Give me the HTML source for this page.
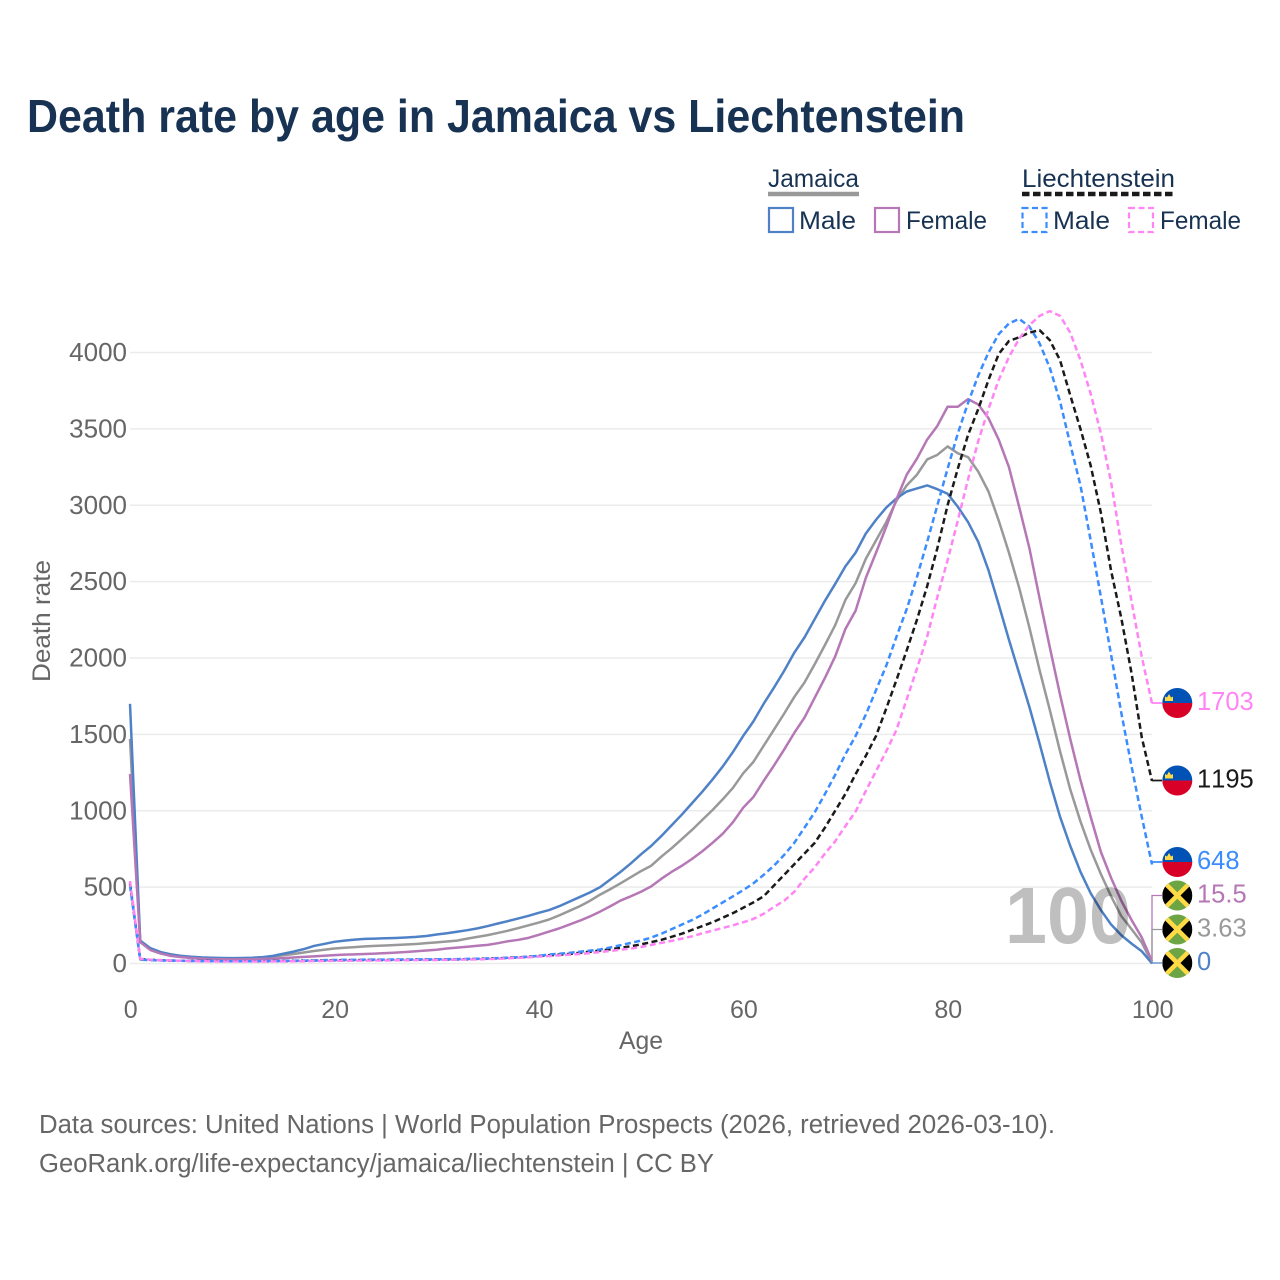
<!DOCTYPE html>
<html lang="en">
<head>
<meta charset="utf-8">
<title>Death rate by age in Jamaica vs Liechtenstein</title>
<style>
html,body{margin:0;padding:0;background:#fff;}
svg{display:block;}
text{font-family:"Liberation Sans",sans-serif;font-kerning:none;}
</style>
</head>
<body>
<svg id="chart" width="1280" height="1280" viewBox="0 0 1280 1280" xmlns="http://www.w3.org/2000/svg">
  <rect width="1280" height="1280" fill="#ffffff"/>
  <text x="27" y="132" font-size="46" font-weight="700" fill="#173252" textLength="938" lengthAdjust="spacingAndGlyphs">Death rate by age in Jamaica vs Liechtenstein</text>

  <g font-size="25" fill="#173252">
    <text x="768" y="187" textLength="91" lengthAdjust="spacingAndGlyphs">Jamaica</text>
    <line x1="768" x2="859" y1="194" y2="194" stroke="#999999" stroke-width="4.5"/>
    <text x="1022" y="187" textLength="153" lengthAdjust="spacingAndGlyphs">Liechtenstein</text>
    <line x1="1022" x2="1175" y1="194" y2="194" stroke="#1a1a1a" stroke-width="4.5" stroke-dasharray="7.5 3.5"/>
    <rect x="769" y="208" width="24" height="24" fill="none" stroke="#4f81c7" stroke-width="2.2"/>
    <text x="799" y="229" textLength="57" lengthAdjust="spacingAndGlyphs">Male</text>
    <rect x="875" y="208" width="24" height="24" fill="none" stroke="#b577b5" stroke-width="2.2"/>
    <text x="906" y="229" textLength="81" lengthAdjust="spacingAndGlyphs">Female</text>
    <rect x="1022.500" y="208" width="24" height="24" fill="none" stroke="#3b8cff" stroke-width="2.2" stroke-dasharray="6 3.500"/>
    <text x="1053" y="229" textLength="57" lengthAdjust="spacingAndGlyphs">Male</text>
    <rect x="1129" y="208" width="24" height="24" fill="none" stroke="#ff85f5" stroke-width="2.2" stroke-dasharray="6 3.500"/>
    <text x="1160" y="229" textLength="81" lengthAdjust="spacingAndGlyphs">Female</text>
  </g>

  <g id="grid"></g>
  <g id="yticks" font-size="26" fill="#666666" text-anchor="end"></g>
  <g id="xticks" font-size="25" fill="#666666" text-anchor="middle"></g>
  <text x="641" y="1049" font-size="25" fill="#666666" text-anchor="middle" textLength="44" lengthAdjust="spacingAndGlyphs">Age</text>
  <text transform="translate(50 621) rotate(-90)" font-size="25" fill="#666666" text-anchor="middle" textLength="122" lengthAdjust="spacingAndGlyphs">Death rate</text>

  <g id="series" fill="none" stroke-linejoin="round"></g>
  <text x="1005" y="943" font-size="80" font-weight="700" fill="#000000" fill-opacity="0.25" textLength="126" lengthAdjust="spacingAndGlyphs">100</text>
  <g id="endpoints"></g>

  <text x="39" y="1133" font-size="25.500" fill="#666666" textLength="1016" lengthAdjust="spacingAndGlyphs">Data sources: United Nations | World Population Prospects (2026, retrieved 2026-03-10).</text>
  <text x="39" y="1172" font-size="25.500" fill="#666666" textLength="675" lengthAdjust="spacingAndGlyphs">GeoRank.org/life-expectancy/jamaica/liechtenstein | CC BY</text>
</svg>
<script>
const yTickValues = [0, 500, 1000, 1500, 2000, 2500, 3000, 3500, 4000];
const xTickValues = [0, 20, 40, 60, 80, 100];

const jamaicaMale = [
  1700,150,100,75,60,50,44,40,38,36,
  35,36,38,42,50,64,78,94,115,128,
  142,150,156,161,163,165,167,170,174,180,
  190,198,208,218,230,245,262,278,295,312,
  332,350,375,405,435,465,500,550,600,655,
  715,770,835,905,975,1050,1125,1205,1290,1385,
  1490,1585,1700,1805,1915,2035,2135,2255,2375,2485,
  2600,2690,2815,2905,2985,3045,3090,3110,3130,3105,
  3075,2990,2890,2760,2575,2350,2120,1900,1680,1440,
  1190,961,770,600,460,350,255,185,130,80,
  0];
const jamaicaBoth = [
  1470,145,95,72,58,48,42,38,35,33,
  33,33,35,40,46,54,62,72,82,90,
  98,103,107,112,115,118,121,124,128,133,
  138,144,150,163,174,186,200,215,232,250,
  268,288,315,345,375,410,451,487,525,565,
  605,640,700,755,815,875,940,1005,1075,1150,
  1245,1320,1425,1530,1635,1745,1840,1960,2085,2215,
  2380,2490,2650,2770,2890,3030,3130,3200,3300,3330,
  3385,3340,3315,3220,3090,2900,2690,2460,2200,1920,
  1660,1390,1140,930,745,585,440,310,225,137,
  3.63];
const jamaicaFemale = [
  1240,140,88,65,50,42,36,32,29,28,
  27,27,28,30,32,35,39,43,47,51,
  55,58,60,62,65,68,71,75,80,85,
  90,98,104,110,116,122,133,146,155,168,
  188,209,230,255,280,308,340,375,412,440,
  470,505,555,600,640,685,735,790,850,925,
  1020,1090,1195,1295,1400,1510,1610,1740,1870,2010,
  2190,2310,2525,2690,2860,3040,3200,3305,3430,3520,
  3645,3645,3695,3660,3570,3430,3250,2990,2720,2390,
  2070,1760,1470,1200,960,730,560,410,285,170,
  15.5];
const liechtensteinMale = [
  510,25,22,20,19,18,17,16,16,15,
  15,15,15,16,16,17,18,19,20,22,
  23,24,24,25,25,25,26,26,26,27,
  27,28,29,30,31,33,35,38,41,45,
  50,59,64,70,77,84,92,105,120,135,
  150,170,195,225,255,285,320,360,400,440,
  480,525,580,640,710,790,890,990,1110,1235,
  1370,1490,1630,1790,1950,2140,2320,2530,2760,3000,
  3240,3470,3670,3850,4000,4120,4190,4220,4170,4060,
  3900,3680,3400,3130,2770,2400,2020,1640,1290,960,
  648];
const liechtensteinBoth = [
  525,28,24,21,19,18,17,16,16,15,
  15,15,15,15,16,16,17,18,19,20,
  21,22,22,23,23,23,24,24,25,25,
  26,26,27,28,30,32,34,37,40,44,
  49,54,58,63,70,77,85,93,103,113,
  125,140,155,175,195,220,245,270,300,330,
  365,400,440,510,580,650,720,790,890,1000,
  1110,1240,1360,1490,1670,1857,2050,2250,2470,2720,
  3000,3240,3460,3630,3820,3990,4075,4100,4130,4146,
  4081,3950,3720,3500,3260,2950,2570,2260,1900,1480,
  1195];
const liechtensteinFemale = [
  540,30,25,22,20,18,16,15,14,13,
  13,13,13,13,14,14,15,15,16,17,
  18,18,19,19,20,20,21,21,22,22,
  23,24,25,26,27,29,31,34,37,41,
  45,49,53,57,62,68,75,82,90,98,
  108,122,135,148,163,178,198,215,233,250,
  270,292,325,370,410,470,555,630,720,800,
  900,995,1130,1260,1390,1530,1730,1930,2140,2400,
  2640,2900,3170,3420,3630,3820,3970,4090,4179,4240,
  4271,4240,4130,3950,3730,3470,3150,2740,2370,2008,
  1703];

const endLabelJamaicaMale = "0";
const endLabelJamaicaBoth = "3.63";
const endLabelJamaicaFemale = "15.5";
const endLabelLiechtensteinMale = "648";
const endLabelLiechtensteinBoth = "1195";
const endLabelLiechtensteinFemale = "1703";

const NS = "http://www.w3.org/2000/svg";
function xScale(age) { return 130 + age * 10.22; }
function yScale(v) { return 963.5 - v * 0.15275; }
function make(tag, parent) {
  const el = document.createElementNS(NS, tag);
  parent.appendChild(el);
  return el;
}
function set(el, attrs) {
  for (const k in attrs) el.setAttribute(k, attrs[k]);
  return el;
}

const gridG = document.getElementById("grid");
const yG = document.getElementById("yticks");
const xG = document.getElementById("xticks");
yTickValues.forEach(function (v) {
  const line = make("line", gridG);
  set(line, {x1: 130, x2: 1152, y1: yScale(v), y2: yScale(v), stroke: "#ebebeb", "stroke-width": 1.5});
  
  
  const t = make("text", yG);
  set(t, {x: 127, y: yScale(v) + 8.5});
  t.textContent = String(v);
  
  
});
xTickValues.forEach(function (v) {
  const t = make("text", xG);
  set(t, {x: xScale(v) + 0.7, y: 1018});
  t.textContent = String(v);
  
  
});

function drawLine(values, color, dashed, name, width) {
  const g = document.getElementById("series");
  const p = make("path", g);
  const d = values.map(function (v, i) {
    return (i ? "L" : "M") + xScale(i).toFixed(2) + " " + yScale(v).toFixed(2);
  }).join(" ");
  set(p, {d: d, stroke: color, "stroke-width": width});
  if (dashed) p.setAttribute("stroke-dasharray", "6 3.5");
  
  
}
drawLine(jamaicaBoth, "#999999", false, "line-jamaica-both", 2.5);
drawLine(jamaicaMale, "#4f81c7", false, "line-jamaica-male", 2.5);
drawLine(jamaicaFemale, "#b577b5", false, "line-jamaica-female", 2.5);
drawLine(liechtensteinBoth, "#1a1a1a", true, "line-liechtenstein-both", 2.5);
drawLine(liechtensteinMale, "#3b8cff", true, "line-liechtenstein-male", 2.5);
drawLine(liechtensteinFemale, "#ff85f5", true, "line-liechtenstein-female", 2.5);

function drawFlag(parent, kind, cx, cy) {
  const r = 15;
  const g = make("g", parent);
  
  
  if (kind === "liechtenstein") {
    set(make("path", g), {d: "M" + (cx - r) + " " + cy + "A" + r + " " + r + " 0 0 1 " + (cx + r) + " " + cy + "Z", fill: "#0052b4"});
    set(make("path", g), {d: "M" + (cx - r) + " " + cy + "A" + r + " " + r + " 0 0 0 " + (cx + r) + " " + cy + "Z", fill: "#d80027"});
    const cr = cx - 8.3;
    set(make("path", g), {d: "M" + (cr - 4) + " " + (cy - 2) + "V" + (cy - 6.5) + "L" + (cr - 2) + " " + (cy - 5.5) + "L" + cr + " " + (cy - 9) + "L" + (cr + 2) + " " + (cy - 5.5) + "L" + (cr + 4) + " " + (cy - 6.5) + "V" + (cy - 2) + "Z", fill: "#ffda44"});
  } else {
    const clipId = "clip-" + Math.round(cy);
    const cp = make("clipPath", g);
    cp.setAttribute("id", clipId);
    set(make("circle", cp), {cx: cx, cy: cy, r: r});
    const h = make("g", g);
    h.setAttribute("clip-path", "url(#" + clipId + ")");
    set(make("rect", h), {x: cx - r, y: cy - r, width: 2 * r, height: 2 * r, fill: "#6da544"});
    set(make("path", h), {d: "M" + (cx - r) + " " + (cy - r) + "L" + cx + " " + cy + "L" + (cx - r) + " " + (cy + r) + "Z", fill: "#000000"});
    set(make("path", h), {d: "M" + (cx + r) + " " + (cy - r) + "L" + cx + " " + cy + "L" + (cx + r) + " " + (cy + r) + "Z", fill: "#000000"});
    set(make("path", h), {d: "M" + (cx - r) + " " + (cy - r) + "L" + (cx + r) + " " + (cy + r) + "M" + (cx + r) + " " + (cy - r) + "L" + (cx - r) + " " + (cy + r), stroke: "#ffda44", "stroke-width": 4.5, fill: "none"});
  }
}

function drawEnd(values, label, color, kind, flagY, dashed, name) {
  const parent = document.getElementById("endpoints");
  const last = values[values.length - 1];
  const x = xScale(100);
  const conn = make("path", parent);
  set(conn, {d: "M" + x + " " + yScale(last) + "V" + flagY + "H1162", fill: "none", stroke: color, "stroke-width": dashed ? 1.8 : 1.3});
  
  
  drawFlag(parent, kind, 1177.3, flagY);
  const t = make("text", parent);
  set(t, {x: 1197, y: flagY + 6.8, "font-size": 25.5, fill: color});
  t.textContent = label;
  
  
}
drawEnd(liechtensteinFemale, endLabelLiechtensteinFemale, "#ff85f5", "liechtenstein", 703, true, "liechtenstein-female");
drawEnd(liechtensteinBoth, endLabelLiechtensteinBoth, "#1a1a1a", "liechtenstein", 780.5, true, "liechtenstein-both");
drawEnd(liechtensteinMale, endLabelLiechtensteinMale, "#3b8cff", "liechtenstein", 862, true, "liechtenstein-male");
drawEnd(jamaicaFemale, endLabelJamaicaFemale, "#b577b5", "jamaica", 895.5, false, "jamaica-female");
drawEnd(jamaicaBoth, endLabelJamaicaBoth, "#999999", "jamaica", 929.5, false, "jamaica-both");
drawEnd(jamaicaMale, endLabelJamaicaMale, "#4f81c7", "jamaica", 963, false, "jamaica-male");
</script>
</body>
</html>
